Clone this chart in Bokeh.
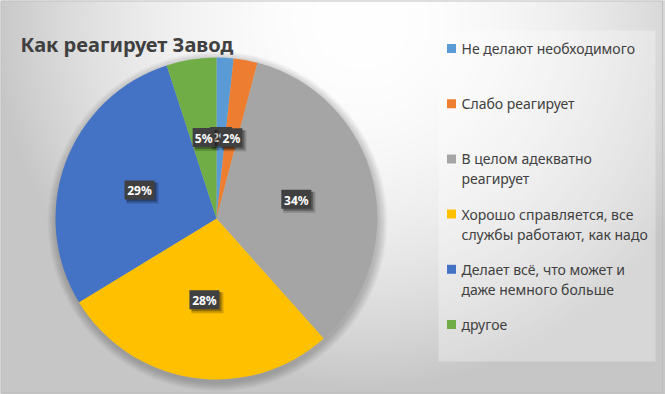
import textwrap
import numpy as np
import pandas as pd
from bokeh.plotting import figure
from bokeh.models import ColumnDataSource, Range1d
from bokeh.core.properties import value
from bokeh.embed import file_html
from bokeh.resources import INLINE

# ---------------- data ----------------
title_text = "Как реагирует Завод"
categories = [
    "Не делают необходимого",
    "Слабо реагирует",
    "В целом адекватно реагирует",
    "Хорошо справляется, все службы работают, как надо",
    "Делает всё, что может и даже немного больше",
    "другое",
]
shares = [1.7, 2.4, 34.3, 27.9, 28.7, 5.0]
colors = ["#5B9BD5", "#ED7D31", "#A5A5A5", "#FFC000", "#4472C4", "#70AD47"]

# ---------------- layout ----------------
W, H = 665, 394
OFF = 0


def sx(x):
    return x - OFF


def sy(y):
    return H - (y - OFF)


CX, CY, R = sx(216), sy(218), 161
FONT = value("Noto Sans")
TXT = "#404040"

p = figure(width=W, height=H, x_range=Range1d(0, W), y_range=Range1d(0, H),
           output_backend="svg", toolbar_location=None, min_border=0,
           x_axis_location=None, y_axis_location=None, outline_line_color=None)
p.grid.visible = False
p.background_fill_color = "#cccccc"
p.border_fill_color = "#cccccc"

# background radial gradient
yy, xx = np.mgrid[0:H, 0:W]
rx = xx + OFF
ry = (H - 1 - yy) + OFF
d = np.hypot(rx - 360.0, ry - 20.0)
t = np.clip(d / 370.0, 0, 1) ** 2
g = np.clip(255 - 57 * t, 198, 255).astype(np.uint8)
img = np.empty((H, W), dtype=np.uint32)
view = img.view(dtype=np.uint8).reshape((H, W, 4))
view[:, :, 0] = g
view[:, :, 1] = g
view[:, :, 2] = g
view[:, :, 3] = 255
p.image_rgba(image=[img], x=0, y=0, dw=W, dh=H)

# chart border
p.quad(left=0.5, right=662, top=H - 0.5, bottom=H - 392, fill_color=None,
       line_color="#bfbfbf", line_width=1)

# legend panel
p.quad(left=sx(438), right=sx(655), top=sy(30), bottom=sy(361),
       fill_color="white", fill_alpha=0.3, line_color=None)

# pie shadow
for k in range(1, 10):
    p.circle(x=CX + 1, y=CY - 3, radius=R + k, fill_color="black",
             fill_alpha=0.022, line_color=None)

# pie
df = pd.DataFrame(dict(cat=categories, share=shares, color=colors))
frac = df["share"] / df["share"].sum()
cum = frac.cumsum()
df["start"] = np.pi / 2 - cum * 2 * np.pi
df["end"] = np.pi / 2 - (cum - frac) * 2 * np.pi
src = ColumnDataSource(df)
p.wedge(x=CX, y=CY, radius=R, start_angle="start", end_angle="end",
        direction="anticlock", fill_color="color", line_color=None, source=src)

# data labels
mid = (df["start"] + df["end"]) / 2
lab = pd.DataFrame(dict(
    x=CX + 0.51 * R * np.cos(mid),
    y=CY + 0.51 * R * np.sin(mid),
    text=[f"{round(s)}%" for s in df["share"]],
))
lab["w"] = 8 * lab["text"].str.len() + 6
for i in range(len(lab)):
    row = lab.iloc[i]
    p.rect(x=row.x + 3, y=row.y - 3, width=row.w + 2, height=21,
           fill_color="black", fill_alpha=0.18, line_color=None)
    p.rect(x=row.x + 2, y=row.y - 2, width=row.w, height=19,
           fill_color="black", fill_alpha=0.3, line_color=None)
    p.rect(x=row.x, y=row.y, width=row.w, height=19,
           fill_color="#404040", line_color=None)
    p.text(x=[row.x], y=[row.y - 1], text=[row.text], text_font=FONT,
           text_font_style="bold", text_font_size="12px", text_color="white",
           text_align="center", text_baseline="middle")

# title
p.text(x=[sx(20)], y=[sy(44)], text=[title_text], text_font=FONT,
       text_font_style="bold", text_font_size="20px", text_color=TXT,
       text_baseline="alphabetic")

# legend
lx, ly, ly_lines = [], [], []
mx, my = [], []
for i, c in enumerate(categories):
    y0 = 48 + 55.2 * i
    mx.append(sx(451))
    my.append(sy(y0))
    for j, line in enumerate(textwrap.wrap(c, 25)):
        lx.append(sx(461))
        ly.append(sy(y0 + 20 * j))
        ly_lines.append(line)
p.rect(x=mx, y=my, width=9, height=9, fill_color=colors, line_color=None)
p.text(x=lx, y=ly, text=ly_lines, text_font=FONT, text_font_size="14px",
       text_color=TXT, text_baseline="middle")

open("out.html", "w").write(file_html(p, INLINE))
